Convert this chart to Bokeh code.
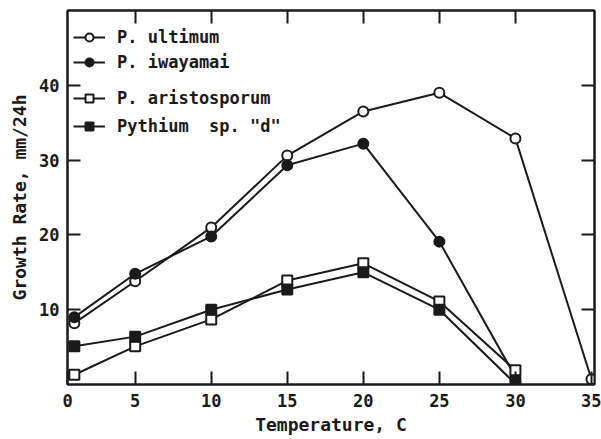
from bokeh.plotting import figure
from bokeh.models import (LinearAxis, FixedTicker, Legend, LegendItem, Range1d)
from bokeh.embed import file_html
from bokeh.resources import INLINE

temps = [1, 5, 10, 15, 20, 25, 30, 35]
ultimum = [8.2, 13.8, 21.0, 30.6, 36.5, 39.0, 32.9, 0.7]
iwayamai = [9.0, 14.8, 19.8, 29.3, 32.2, 19.1, 1.0]
aristosporum = [1.3, 5.1, 8.7, 13.9, 16.2, 11.1, 1.9]
pythium_d = [5.1, 6.4, 10.0, 12.7, 15.0, 10.0, 0.1]

x_ticks = [0.55, 5, 10, 15, 20, 25, 30, 35]
x_tick_labels = ["0", "5", "10", "15", "20", "25", "30", "35"]
y_ticks = [10, 20, 30, 40]

FONT = "DejaVu Sans Mono"
INK = "#1a1a1a"

p = figure(width=601, height=439, output_backend="svg", toolbar_location=None,
           x_range=Range1d(0.55, 35.2), y_range=Range1d(0, 50),
           min_border_left=67, min_border_right=7, min_border_top=10,
           min_border_bottom=55, x_axis_location=None, y_axis_location=None)
p.grid.visible = False
p.outline_line_color = INK
p.outline_line_width = 2
p.background_fill_color = "white"
p.border_fill_color = "white"

def style_axis(ax, labels=True):
    ax.axis_line_color = INK
    ax.axis_line_width = 2
    ax.major_tick_in = 13
    ax.major_tick_out = 0
    ax.minor_tick_in = 0
    ax.minor_tick_out = 0
    ax.major_tick_line_color = INK
    ax.major_tick_line_width = 2
    ax.major_label_text_font = FONT
    ax.major_label_text_font_size = "17px"
    ax.major_label_text_font_style = "bold"
    ax.major_label_text_color = INK
    if not labels:
        ax.major_label_overrides = {t: "" for t in ax.ticker.ticks}

xb = LinearAxis(ticker=FixedTicker(ticks=x_ticks), axis_label="Temperature, C")
xb.major_label_overrides = {t: l for t, l in zip(x_ticks, x_tick_labels)}
style_axis(xb)
xb.major_label_standoff = 9
xb.axis_label_text_font = FONT
xb.axis_label_text_font_style = "bold"
xb.axis_label_text_font_size = "18px"
xb.axis_label_text_color = INK
xb.axis_label_standoff = 4
p.add_layout(xb, "below")

yl = LinearAxis(ticker=FixedTicker(ticks=y_ticks), axis_label="Growth Rate, mm/24h")
style_axis(yl)
yl.major_label_standoff = 8
yl.axis_label_text_font = FONT
yl.axis_label_text_font_style = "bold"
yl.axis_label_text_font_size = "18px"
yl.axis_label_text_color = INK
yl.axis_label_standoff = 6
p.add_layout(yl, "left")

xt = LinearAxis(ticker=FixedTicker(ticks=[5, 10, 15, 20, 25, 30]))
style_axis(xt, labels=False)
p.add_layout(xt, "above")

yr = LinearAxis(ticker=FixedTicker(ticks=y_ticks))
style_axis(yr, labels=False)
p.add_layout(yr, "right")

series = [
    ("P. ultimum", ultimum, "circle", "white"),
    ("P. iwayamai", iwayamai, "circle", INK),
    ("P. aristosporum", aristosporum, "square", "white"),
    ('Pythium  sp. "d"', pythium_d, "square", INK),
]

items = []
for name, vals, marker, fill in series:
    xs = temps[:len(vals)]
    ln = p.line(xs, vals, line_color=INK, line_width=2)
    mk = p.scatter(xs, vals, marker=marker, size=10, fill_color=fill,
                   line_color=INK, line_width=2)
    items.append(LegendItem(label=name, renderers=[ln, mk]))

def make_legend(its, loc, spacing):
    return Legend(items=its, location=loc, border_line_color=None,
                  background_fill_alpha=0, padding=0, margin=0,
                  spacing=spacing, glyph_width=32, glyph_height=20,
                  label_height=20, label_standoff=12,
                  label_text_font=FONT, label_text_font_size="17px",
                  label_text_font_style="bold",
                  label_text_color=INK)

p.add_layout(make_legend(items[:2], (6, 312), 5))
p.add_layout(make_legend(items[2:], (6, 248), 8))

open("out.html", "w").write(file_html(p, INLINE))
